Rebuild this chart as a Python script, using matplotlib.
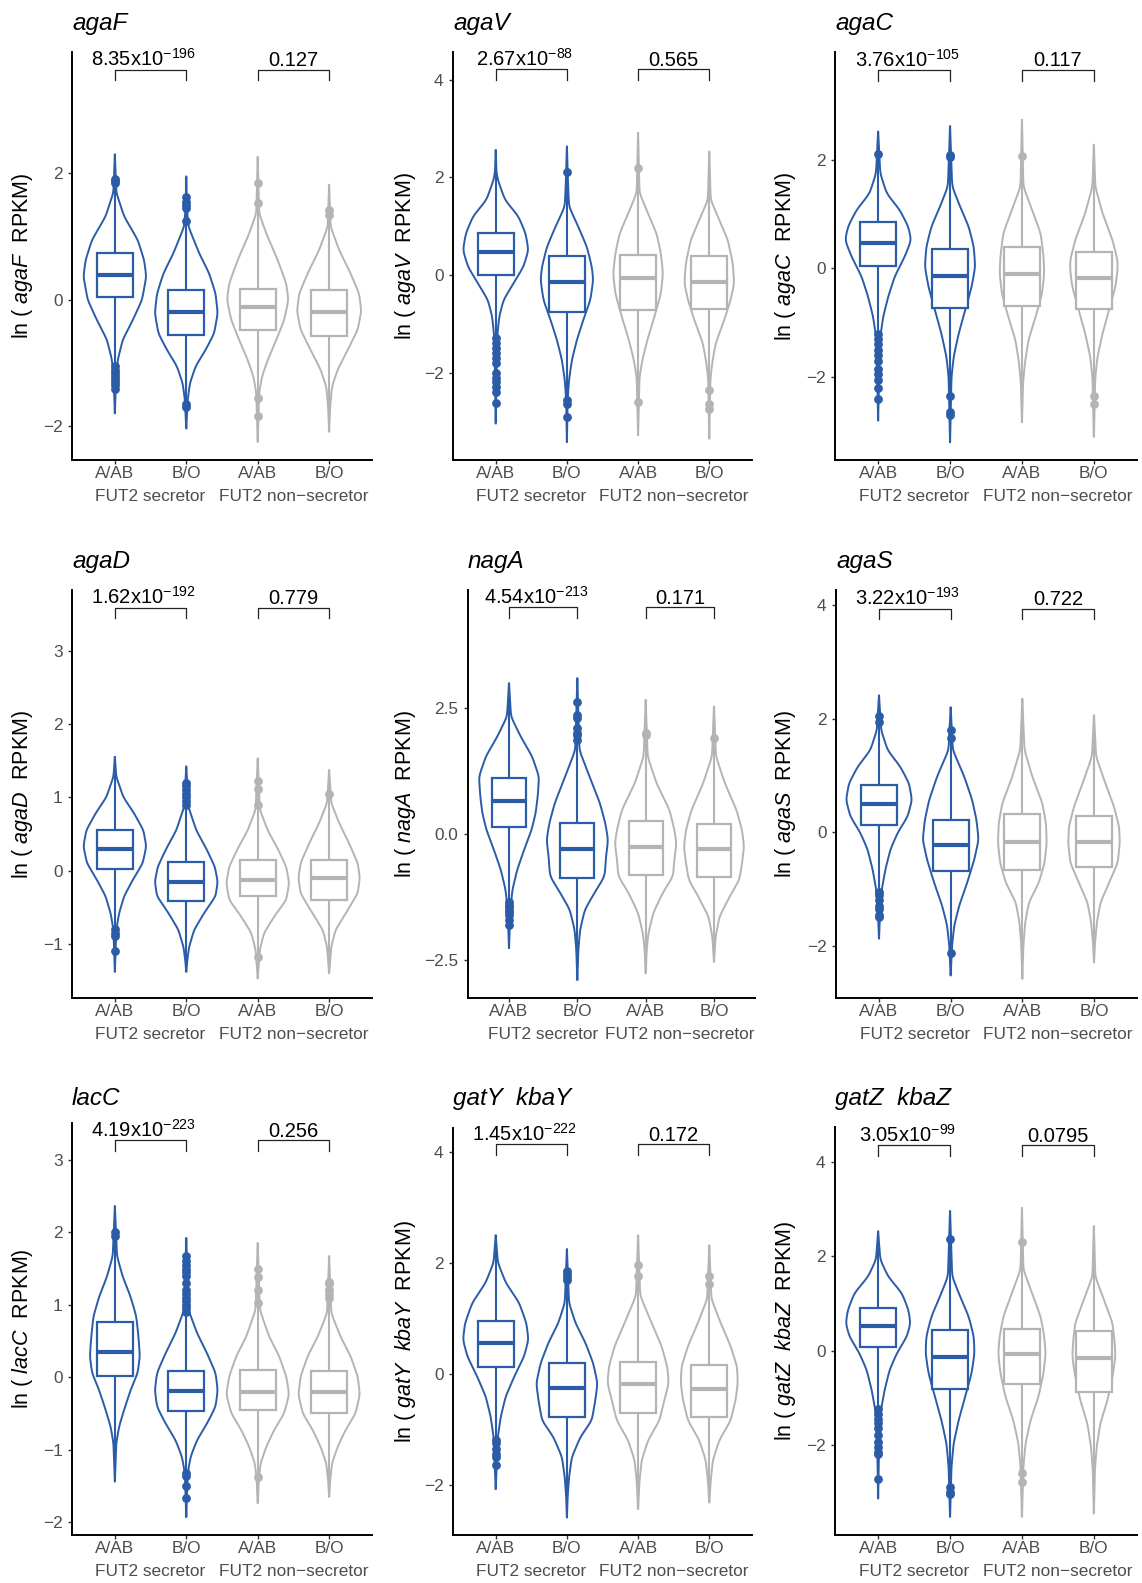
import numpy as np
import matplotlib.pyplot as plt
from matplotlib.patches import Rectangle

plt.rcParams['font.family'] = 'Liberation Sans'
plt.rcParams['mathtext.fontset'] = 'custom'
plt.rcParams['mathtext.rm'] = 'Liberation Sans'
plt.rcParams['mathtext.it'] = 'Liberation Sans:italic'
plt.rcParams['mathtext.bf'] = 'Liberation Sans:bold'

# ---- data ----
groups = ['A/AB', 'B/O', 'A/AB', 'B/O']
strata = ['FUT2 secretor', 'FUT2 non\u2212secretor']
genes = ['agaF', 'agaV', 'agaC', 'agaD', 'nagA', 'agaS', 'lacC', 'gatY  kbaY', 'gatZ  kbaZ']
p_sec_mant = ['8.35', '2.67', '3.76', '1.62', '4.54', '3.22', '4.19', '1.45', '3.05']
p_sec_exp = [-196, -88, -105, -192, -213, -193, -223, -222, -99]
p_non = ['0.127', '0.565', '0.117', '0.779', '0.171', '0.722', '0.256', '0.172', '0.0795']

# box stats per group: [q1, median, q3]
agaF_box = [[0.04, 0.39, 0.74], [-0.55, -0.19, 0.16], [-0.47, -0.11, 0.18], [-0.57, -0.19, 0.15]]
agaF_out = [[1.92, 1.88, 1.85, -1.05, -1.1, -1.15, -1.2, -1.25, -1.3, -1.35, -1.4],
            [1.63, 1.55, 1.5, 1.45, 1.25, -1.65, -1.7], [1.85, 1.54, -1.55, -1.83], [1.42, 1.35]]
agaF_vy = [[2.3, 1.7, 1.32, 0.95, 0.63, 0.37, 0.0, -0.32, -0.63, -0.95, -1.3, -1.79],
           [1.95, 1.45, 1.16, 0.74, 0.42, 0.1, -0.21, -0.53, -0.79, -1.05, -1.32, -1.58, -2.03],
           [2.26, 1.37, 1.05, 0.63, 0.26, 0.0, -0.32, -0.63, -0.95, -1.21, -1.47, -2.24],
           [1.82, 1.16, 0.79, 0.42, 0.1, -0.18, -0.47, -0.79, -1.1, -1.37, -1.68, -2.08]]
agaF_vw = [[0, 0.02, 0.13, 0.32, 0.41, 0.44, 0.38, 0.25, 0.11, 0.04, 0.015, 0],
           [0, 0.01, 0.03, 0.18, 0.32, 0.41, 0.44, 0.39, 0.27, 0.13, 0.05, 0.02, 0],
           [0, 0.02, 0.12, 0.28, 0.4, 0.43, 0.37, 0.26, 0.14, 0.06, 0.02, 0],
           [0, 0.02, 0.14, 0.3, 0.42, 0.45, 0.4, 0.26, 0.12, 0.04, 0.015, 0]]

agaV_box = [[0.0, 0.48, 0.87], [-0.75, -0.15, 0.38], [-0.72, -0.07, 0.41], [-0.7, -0.15, 0.39]]
agaV_out = [[-1.3, -1.4, -1.5, -1.6, -1.7, -1.8, -2.0, -2.1, -2.2, -2.3, -2.4, -2.63],
            [2.12, -2.57, -2.65, -2.9], [2.2, -2.6], [-2.35, -2.65, -2.75]]
agaV_vy = [[2.56, 2.1, 1.95, 1.54, 1.2, 0.85, 0.51, 0.17, -0.17, -0.51, -0.85, -1.2, -2.0, -3.04],
           [2.63, 1.9, 1.4, 0.99, 0.58, 0.17, -0.1, -0.51, -0.92, -1.33, -1.74, -2.15, -2.56, -3.42],
           [2.91, 1.68, 1.26, 0.85, 0.44, 0.03, -0.38, -0.85, -1.33, -1.74, -2.09, -3.28],
           [2.53, 1.54, 1.13, 0.72, 0.24, -0.17, -0.51, -0.92, -1.4, -1.81, -2.15, -3.35]]
agaV_vw = [[0, 0.01, 0.03, 0.13, 0.32, 0.42, 0.46, 0.39, 0.25, 0.11, 0.05, 0.025, 0.01, 0],
           [0, 0.015, 0.03, 0.16, 0.28, 0.35, 0.37, 0.33, 0.23, 0.14, 0.07, 0.03, 0.01, 0],
           [0, 0.02, 0.14, 0.26, 0.32, 0.35, 0.32, 0.23, 0.13, 0.06, 0.02, 0],
           [0, 0.02, 0.14, 0.26, 0.33, 0.35, 0.3, 0.21, 0.09, 0.04, 0.015, 0]]

agaC_box = [[0.04, 0.47, 0.86], [-0.72, -0.14, 0.35], [-0.7, -0.11, 0.39], [-0.74, -0.17, 0.3]]
agaC_out = [[2.11, -1.2, -1.3, -1.4, -1.5, -1.6, -1.7, -1.85, -1.95, -2.05, -2.2, -2.4],
            [2.1, 2.05, -2.35, -2.65, -2.7], [2.08], [-2.35, -2.5]]
agaC_vy = [[2.52, 1.75, 1.38, 1.08, 0.77, 0.52, 0.22, -0.15, -0.52, -0.89, -1.26, -1.82, -2.8],
           [2.62, 1.51, 1.14, 0.77, 0.4, 0.03, -0.34, -0.77, -1.2, -1.63, -2.0, -3.2],
           [2.74, 1.51, 1.08, 0.65, 0.22, -0.09, -0.46, -0.89, -1.32, -1.75, -2.12, -2.83],
           [2.28, 1.51, 1.02, 0.52, 0.15, -0.03, -0.34, -0.77, -1.2, -1.63, -2.0, -3.1]]
agaC_vw = [[0, 0.03, 0.12, 0.3, 0.42, 0.46, 0.37, 0.23, 0.14, 0.07, 0.03, 0.015, 0],
           [0, 0.03, 0.14, 0.26, 0.33, 0.35, 0.3, 0.21, 0.12, 0.05, 0.02, 0],
           [0, 0.02, 0.14, 0.26, 0.3, 0.31, 0.28, 0.19, 0.09, 0.04, 0.015, 0],
           [0, 0.02, 0.12, 0.26, 0.33, 0.33, 0.3, 0.21, 0.12, 0.05, 0.02, 0]]

agaD_box = [[0.02, 0.3, 0.55], [-0.41, -0.16, 0.11], [-0.35, -0.13, 0.15], [-0.4, -0.1, 0.15]]
agaD_out = [[-0.8, -0.85, -0.9, -1.1], [1.2, 1.15, 1.1, 1.05, 1.0, 0.95, 0.9],
            [1.22, 1.12, 0.9, -1.18], [1.05]]
agaD_vy = [[1.55, 1.28, 1.0, 0.78, 0.55, 0.33, 0.1, -0.13, -0.35, -0.58, -0.81, -1.38],
           [1.42, 0.87, 0.55, 0.28, 0.05, -0.15, -0.35, -0.58, -0.81, -1.04, -1.22, -1.38],
           [1.53, 0.83, 0.55, 0.28, 0.05, -0.17, -0.4, -0.63, -0.85, -1.08, -1.47],
           [1.37, 0.92, 0.65, 0.37, 0.1, -0.1, -0.31, -0.54, -0.81, -1.04, -1.4]]
agaD_vw = [[0, 0.02, 0.12, 0.27, 0.4, 0.44, 0.39, 0.25, 0.13, 0.06, 0.02, 0],
           [0, 0.03, 0.14, 0.29, 0.4, 0.44, 0.41, 0.25, 0.11, 0.04, 0.015, 0],
           [0, 0.03, 0.14, 0.29, 0.4, 0.44, 0.4, 0.23, 0.09, 0.03, 0],
           [0, 0.03, 0.14, 0.28, 0.4, 0.43, 0.4, 0.26, 0.09, 0.03, 0]]

nagA_box = [[0.13, 0.65, 1.11], [-0.88, -0.3, 0.21], [-0.81, -0.25, 0.26], [-0.86, -0.3, 0.19]]
nagA_out = [[-1.35, -1.4, -1.45, -1.5, -1.55, -1.6, -1.7, -1.8],
            [2.62, 2.35, 2.3, 2.1, 2.0, 1.95, 1.85], [2.0, 1.95], [1.9]]
nagA_vy = [[2.98, 2.32, 1.93, 1.53, 1.13, 0.74, 0.41, 0.08, -0.32, -0.71, -1.11, -1.5, -2.26],
           [3.08, 1.66, 1.13, 0.61, 0.21, -0.12, -0.45, -0.84, -1.17, -1.5, -1.9, -2.3, -2.89],
           [2.65, 1.53, 1.0, 0.47, 0.08, -0.18, -0.51, -0.84, -1.17, -1.57, -1.97, -2.3, -2.76],
           [2.52, 1.53, 1.0, 0.47, 0.08, -0.25, -0.58, -0.91, -1.24, -1.64, -2.03, -2.53]]
nagA_vw = [[0, 0.03, 0.17, 0.34, 0.44, 0.42, 0.39, 0.33, 0.22, 0.12, 0.05, 0.02, 0],
           [0, 0.03, 0.18, 0.33, 0.41, 0.45, 0.42, 0.4, 0.25, 0.11, 0.04, 0.015, 0],
           [0, 0.03, 0.16, 0.35, 0.42, 0.45, 0.42, 0.4, 0.25, 0.11, 0.04, 0.015, 0],
           [0, 0.03, 0.16, 0.33, 0.41, 0.44, 0.41, 0.37, 0.23, 0.08, 0.025, 0]]

agaS_box = [[0.12, 0.5, 0.83], [-0.69, -0.22, 0.22], [-0.66, -0.17, 0.33], [-0.62, -0.17, 0.28]]
agaS_out = [[2.05, 1.95, -1.05, -1.1, -1.2, -1.3, -1.35, -1.45, -1.5],
            [1.8, 1.67, -2.13], [], []]
agaS_vy = [[2.41, 1.8, 1.45, 1.15, 0.86, 0.57, 0.28, -0.01, -0.3, -0.65, -1.0, -1.41, -1.87],
           [2.2, 1.45, 0.98, 0.57, 0.22, -0.13, -0.48, -0.89, -1.29, -1.64, -1.99, -2.52],
           [2.35, 1.45, 0.98, 0.51, 0.16, -0.19, -0.54, -0.89, -1.24, -1.59, -1.99, -2.58],
           [2.06, 1.33, 0.86, 0.45, 0.1, -0.19, -0.54, -0.89, -1.24, -1.59, -1.94, -2.29]]
agaS_vw = [[0, 0.03, 0.12, 0.3, 0.42, 0.46, 0.4, 0.26, 0.16, 0.09, 0.04, 0.015, 0],
           [0, 0.03, 0.19, 0.3, 0.36, 0.39, 0.33, 0.23, 0.12, 0.05, 0.02, 0],
           [0, 0.03, 0.14, 0.28, 0.33, 0.34, 0.31, 0.23, 0.09, 0.04, 0.015, 0],
           [0, 0.03, 0.16, 0.28, 0.35, 0.36, 0.33, 0.21, 0.09, 0.04, 0.015, 0]]

lacC_box = [[0.01, 0.35, 0.76], [-0.47, -0.19, 0.08], [-0.46, -0.2, 0.1], [-0.5, -0.21, 0.08]]
lacC_out = [[2.0, 1.95],
            [1.67, 1.6, 1.55, 1.5, 1.45, 1.4, 1.3, 1.2, 1.15, 1.1, 1.05, 1.0, 0.95, 0.9,
             -1.32, -1.37, -1.5, -1.67],
            [1.5, 1.38, 1.2, 1.02, -1.38], [1.32, 1.28, 1.2, 1.15, 1.1]]
lacC_vy = [[2.36, 1.67, 1.39, 1.11, 0.84, 0.56, 0.29, 0.06, -0.18, -0.45, -0.68, -0.91, -1.44],
           [1.92, 0.93, 0.61, 0.33, 0.06, -0.18, -0.41, -0.64, -0.87, -1.1, -1.33, -1.93],
           [1.85, 0.93, 0.56, 0.29, 0.01, -0.24, -0.5, -0.73, -0.96, -1.19, -1.42, -1.74],
           [1.67, 0.88, 0.56, 0.29, 0.01, -0.24, -0.5, -0.73, -0.96, -1.19, -1.42, -1.65]]
lacC_vw = [[0, 0.03, 0.11, 0.22, 0.3, 0.33, 0.35, 0.32, 0.22, 0.13, 0.06, 0.02, 0],
           [0, 0.03, 0.15, 0.29, 0.41, 0.44, 0.41, 0.29, 0.15, 0.06, 0.02, 0],
           [0, 0.03, 0.16, 0.3, 0.4, 0.44, 0.37, 0.23, 0.12, 0.04, 0.015, 0],
           [0, 0.03, 0.16, 0.3, 0.4, 0.43, 0.37, 0.23, 0.12, 0.04, 0.015, 0]]

gatY_box = [[0.12, 0.56, 0.95], [-0.78, -0.26, 0.19], [-0.7, -0.19, 0.22], [-0.78, -0.28, 0.16]]
gatY_out = [[-1.2, -1.25, -1.35, -1.45, -1.5, -1.65], [1.85, 1.8, 1.75, 1.7], [1.97, 1.76], [1.77, 1.62]]
gatY_vy = [[2.5, 2.01, 1.65, 1.28, 0.92, 0.62, 0.32, -0.05, -0.41, -0.78, -1.14, -2.08],
           [2.25, 1.28, 0.92, 0.56, 0.19, -0.17, -0.47, -0.84, -1.14, -1.5, -1.87, -2.23, -2.59],
           [2.5, 1.41, 0.92, 0.5, 0.13, -0.17, -0.47, -0.84, -1.2, -1.56, -1.93, -2.44],
           [2.32, 1.35, 0.92, 0.5, 0.13, -0.17, -0.47, -0.84, -1.2, -1.56, -1.93, -2.32]]
gatY_vw = [[0, 0.03, 0.14, 0.33, 0.43, 0.46, 0.4, 0.26, 0.14, 0.07, 0.03, 0],
           [0, 0.03, 0.12, 0.26, 0.37, 0.43, 0.4, 0.35, 0.19, 0.07, 0.03, 0.01, 0],
           [0, 0.03, 0.19, 0.33, 0.41, 0.43, 0.37, 0.3, 0.14, 0.05, 0.02, 0],
           [0, 0.03, 0.16, 0.3, 0.39, 0.4, 0.37, 0.3, 0.14, 0.05, 0.02, 0]]

gatZ_box = [[0.07, 0.52, 0.9], [-0.82, -0.14, 0.44], [-0.72, -0.07, 0.45], [-0.89, -0.15, 0.42]]
gatZ_out = [[-1.25, -1.35, -1.45, -1.55, -1.65, -1.8, -1.95, -2.05, -2.15, -2.2, -2.72],
            [2.38, -2.9, -3.0, -3.05], [2.3, -2.6, -2.8], []]
gatZ_vy = [[2.53, 1.93, 1.57, 1.22, 0.87, 0.58, 0.3, -0.06, -0.41, -0.84, -1.26, -1.83, -3.14],
           [2.96, 1.57, 1.15, 0.72, 0.3, -0.06, -0.48, -0.98, -1.48, -1.97, -2.47, -3.53],
           [3.03, 1.72, 1.22, 0.72, 0.3, -0.06, -0.48, -0.98, -1.48, -1.97, -2.47, -3.53],
           [2.64, 1.57, 1.08, 0.58, 0.16, -0.13, -0.55, -1.05, -1.55, -2.04, -2.54, -3.46]]
gatZ_vw = [[0, 0.03, 0.14, 0.33, 0.42, 0.45, 0.4, 0.26, 0.16, 0.09, 0.04, 0.015, 0],
           [0, 0.03, 0.14, 0.26, 0.33, 0.34, 0.3, 0.21, 0.12, 0.05, 0.02, 0],
           [0, 0.02, 0.14, 0.26, 0.31, 0.33, 0.3, 0.23, 0.12, 0.05, 0.02, 0],
           [0, 0.02, 0.14, 0.26, 0.29, 0.3, 0.26, 0.19, 0.09, 0.04, 0.015, 0]]

panels = [
    (agaF_box, agaF_out, agaF_vy, agaF_vw), (agaV_box, agaV_out, agaV_vy, agaV_vw),
    (agaC_box, agaC_out, agaC_vy, agaC_vw), (agaD_box, agaD_out, agaD_vy, agaD_vw),
    (nagA_box, nagA_out, nagA_vy, nagA_vw), (agaS_box, agaS_out, agaS_vy, agaS_vw),
    (lacC_box, lacC_out, lacC_vy, lacC_vw), (gatY_box, gatY_out, gatY_vy, gatY_vw),
    (gatZ_box, gatZ_out, gatZ_vy, gatZ_vw),
]

# ---- layout (pixels) ----
W, H = 1142, 1583
axes_px = [(72, 52, 372, 460), (453, 52, 752, 460), (835, 52, 1137, 460),
           (72, 590, 372, 998), (468, 590, 755, 998), (836, 590, 1137, 998),
           (72, 1123, 372, 1535), (453, 1128, 752, 1535), (835, 1127, 1137, 1535)]
ylims = [(-2.53, 3.92), (-3.79, 4.57), (-3.53, 3.99), (-1.74, 3.83), (-3.25, 4.83),
         (-2.92, 4.27), (-2.18, 3.51), (-2.91, 4.44), (-3.92, 4.75)]
yticks = [[-2, 0, 2], [-2, 0, 2, 4], [-2, 0, 2], [-1, 0, 1, 2, 3], [-2.5, 0.0, 2.5],
          [-2, 0, 2, 4], [-2, -1, 0, 1, 2, 3], [-2, 0, 2, 4], [-2, 0, 2, 4]]
bracket_y = [3.64, 4.22, 3.66, 3.59, 4.49, 3.94, 3.27, 4.15, 4.36]
title_base = [30, 30, 30, 568, 568, 568, 1105, 1105, 1105]
ylab_x = [23, 405, 785]

BLUE = '#2A5CA8'
GREY = '#B4B4B4'
colors = [BLUE, BLUE, GREY, GREY]
TXT = '#4D4D4D'


def draw_violin(ax, x, vy, vw, color):
    y = np.array(vy[::-1], dtype=float)
    w = np.array(vw[::-1], dtype=float)
    yy = np.linspace(y[0], y[-1], 500)
    ww = np.interp(yy, y, w)
    k = np.exp(-0.5 * (np.arange(-20, 21) / 6.0) ** 2)
    k /= k.sum()
    ww = np.convolve(np.pad(ww, 20), k, mode='same')[20:-20]
    px = np.concatenate([x - ww, (x + ww)[::-1]])
    py = np.concatenate([yy, yy[::-1]])
    ax.fill(px, py, facecolor='white', edgecolor=color, lw=1.4, zorder=1)
    return y[0], y[-1]


fig = plt.figure(figsize=(W / 100, H / 100), dpi=100)

for i, gene in enumerate(genes):
    box, out, vy, vw = panels[i]
    l, t, r, b = axes_px[i]
    ax = fig.add_axes([l / W, 1 - b / H, (r - l) / W, (b - t) / H])

    for g in range(4):
        x = g + 1
        c = colors[g]
        lo, hi = draw_violin(ax, x, vy[g], vw[g], c)
        ax.plot([x, x], [lo, hi], color=c, lw=1.5, zorder=2, solid_capstyle='butt')
        q1, med, q3 = box[g]
        ax.add_patch(Rectangle((x - 0.25, q1), 0.5, q3 - q1, facecolor='white',
                               edgecolor=c, lw=1.6, zorder=3))
        ax.plot([x - 0.25, x + 0.25], [med, med], color=c, lw=3.0, zorder=4,
                solid_capstyle='butt')
        if out[g]:
            ax.scatter([x] * len(out[g]), out[g], s=40, color=c, zorder=5, lw=0)

    ax.set_xlim(0.4, 4.6)
    ax.set_ylim(*ylims[i])
    ax.set_xticks([1, 2, 3, 4])
    ax.set_xticklabels(groups)
    ticks = yticks[i]
    ax.set_yticks(ticks)
    if any(v != int(v) for v in ticks):
        labs = ['{:.1f}'.format(v) for v in ticks]
    else:
        labs = ['{:d}'.format(int(v)) for v in ticks]
    ax.set_yticklabels([s.replace('-', '\u2212') for s in labs])
    ax.tick_params(axis='both', labelsize=12.4, labelcolor=TXT, color='#333333',
                   length=2.8, width=1.0)
    ax.tick_params(axis='x', pad=1.5)
    ax.tick_params(axis='y', pad=4)
    for s in ['top', 'right']:
        ax.spines[s].set_visible(False)
    for s in ['left', 'bottom']:
        ax.spines[s].set_linewidth(1.4)
        ax.spines[s].set_color('black')

    # group labels under the tick labels
    for j, name in enumerate(strata):
        ax.annotate(name, xy=(1.5 + 2 * j, 0), xycoords=('data', 'axes fraction'),
                    xytext=(0, -21), textcoords='offset points', ha='center', va='top',
                    fontsize=12.4, color=TXT, annotation_clip=False)

    # significance brackets
    rng = ylims[i][1] - ylims[i][0]
    by = bracket_y[i]
    tip = 0.026 * rng
    for j in range(2):
        x0, x1 = 1 + 2 * j, 2 + 2 * j
        ax.plot([x0, x0, x1, x1], [by - tip, by, by, by - tip], color='#222222',
                lw=0.9, clip_on=False, zorder=6)
    sec_label = '%sx10$^{%d}$' % (p_sec_mant[i], p_sec_exp[i])
    ax.annotate(sec_label, xy=(1.5, by), xytext=(-5, 2.5), textcoords='offset points',
                ha='center', va='baseline', fontsize=14.5, color='black',
                annotation_clip=False)
    ax.annotate(p_non[i], xy=(3.5, by), xytext=(0, 2.5), textcoords='offset points',
                ha='center', va='baseline', fontsize=14.5, color='black',
                annotation_clip=False)

    # title and y label
    fig.text(l / W, 1 - title_base[i] / H, gene, fontsize=17.5, fontstyle='italic',
             ha='left', va='baseline')
    gname = gene.replace(' ', r'\ ')
    fig.text(ylab_x[i % 3] / W, 1 - ((t + b) / 2) / H,
             r'ln ( $\mathit{%s}$  RPKM)' % gname, rotation=90, ha='center',
             va='center', fontsize=15.5)

fig.savefig('out.png', dpi=100)
